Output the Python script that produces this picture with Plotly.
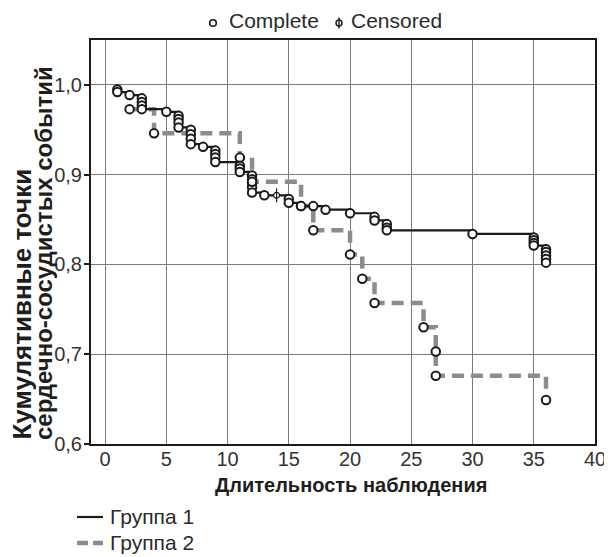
import plotly.graph_objects as go

# ---- data ----
g1_step_x = [1, 2, 3, 5, 6, 7, 8, 9, 11, 12, 13, 15, 16, 18, 20, 22, 23, 30, 35, 36]
g1_step_y = [0.992, 0.9886, 0.973, 0.970, 0.9526, 0.934, 0.931, 0.914, 0.903, 0.880,
             0.877, 0.8686, 0.865, 0.861, 0.857, 0.849, 0.838, 0.834, 0.821, 0.802]

g2_step_x = [2, 4, 11, 12, 16, 17, 20, 21, 22, 26, 27, 36]
g2_step_y = [0.973, 0.946, 0.919, 0.892, 0.865, 0.838, 0.811, 0.784, 0.757, 0.730, 0.676, 0.649]

g1_done_x = [1, 1, 2, 3, 3, 3, 3, 5, 6, 6, 6, 6, 7, 7, 7, 7, 8, 9, 9, 9, 9,
             11, 11, 11, 12, 12, 12, 12, 12, 13, 15, 15, 16, 17, 18, 20,
             22, 22, 23, 23, 23, 30, 35, 35, 35, 35, 36, 36, 36, 36, 36]
g1_done_y = [0.995, 0.992, 0.9886, 0.985, 0.981, 0.977, 0.973, 0.970, 0.9656, 0.962, 0.958, 0.9526,
             0.950, 0.945, 0.940, 0.934, 0.931, 0.927, 0.923, 0.919, 0.914,
             0.910, 0.907, 0.903, 0.899, 0.895, 0.891, 0.886, 0.880, 0.877, 0.873, 0.8686,
             0.865, 0.865, 0.861, 0.857, 0.853, 0.849, 0.845, 0.841, 0.838, 0.834,
             0.830, 0.827, 0.824, 0.821, 0.817, 0.814, 0.810, 0.806, 0.802]

g1_cens_x = [14]
g1_cens_y = [0.877]

g2_done_x = [2, 4, 11, 12, 16, 17, 20, 21, 22, 26, 27, 27, 36]
g2_done_y = [0.973, 0.946, 0.919, 0.892, 0.865, 0.838, 0.811, 0.784, 0.757, 0.730, 0.703, 0.676, 0.649]

x_ticks = [0, 5, 10, 15, 20, 25, 30, 35, 40]
y_ticks = [0.6, 0.7, 0.8, 0.9, 1.0]
y_tick_text = ["0,6", "0,7", "0,8", "0,9", "1,0"]

series_names = ["Группа 1", "Группа 2"]
legend_top = ["Complete", "Censored"]
x_title = "Длительность наблюдения"
y_title_lines = ["Кумулятивные точки", "сердечно-сосудистых событий"]

# ---- figure ----
W, H = 612, 557
OFF = 8  # page body margin
L, T = 91 - OFF, 40 - OFF
pw, ph = 504, 404
R, B = W - L - pw, H - T - ph

BLACK = "#1a1a1a"
GRAY = "#8c8c8c"
FONT = "Liberation Sans, Arial, sans-serif"


def px2paper(px, py):
    """screen pixel -> paper coords"""
    return (px - OFF - L) / pw, (T + ph - (py - OFF)) / ph


fig = go.Figure()

fig.add_trace(go.Scatter(x=g2_step_x, y=g2_step_y, mode="lines", line_shape="hv",
                         line=dict(color=GRAY, width=4.5, dash="12px,7px"),
                         name=series_names[1], showlegend=False))
fig.add_trace(go.Scatter(x=g1_step_x, y=g1_step_y, mode="lines", line_shape="hv",
                         line=dict(color=BLACK, width=2.2),
                         name=series_names[0], showlegend=False))

marker_style = dict(symbol="circle", size=8.5, color="white", line=dict(color=BLACK, width=2))
fig.add_trace(go.Scatter(x=g1_done_x, y=g1_done_y, mode="markers", marker=marker_style,
                         name=series_names[0] + " (Complete)", showlegend=False))
fig.add_trace(go.Scatter(x=g2_done_x, y=g2_done_y, mode="markers", marker=marker_style,
                         name=series_names[1] + " (Complete)", showlegend=False))
fig.add_trace(go.Scatter(x=g1_cens_x, y=g1_cens_y, mode="markers",
                         marker=dict(symbol="circle", size=6, color="white",
                                     line=dict(color=BLACK, width=1.2)),
                         name=series_names[0] + " (Censored)", showlegend=False))
fig.add_trace(go.Scatter(x=g1_cens_x, y=g1_cens_y, mode="markers",
                         marker=dict(symbol="line-ns", size=10, line=dict(color=BLACK, width=1.2)),
                         showlegend=False, hoverinfo="skip"))

shapes = []
annotations = []

# ---- top legend (markers drawn as shapes) ----
cx, cy = px2paper(213, 23)
shapes.append(dict(type="circle", xref="paper", yref="paper", xsizemode="pixel", ysizemode="pixel",
                   xanchor=cx, yanchor=cy, x0=-3.3, x1=3.3, y0=-3.3, y1=3.3,
                   line=dict(color=BLACK, width=1.6), fillcolor="white"))
tx, ty = px2paper(227, 21)
annotations.append(dict(x=tx, y=ty, xref="paper", yref="paper", xanchor="left", yanchor="middle",
                        text=legend_top[0], showarrow=False,
                        font=dict(size=21, color="#2a2a2a", family=FONT)))
cx2, cy2 = px2paper(339, 23)
shapes.append(dict(type="circle", xref="paper", yref="paper", xsizemode="pixel", ysizemode="pixel",
                   xanchor=cx2, yanchor=cy2, x0=-3, x1=3, y0=-3, y1=3,
                   line=dict(color=BLACK, width=1.4), fillcolor="white"))
shapes.append(dict(type="line", xref="paper", yref="paper", xsizemode="pixel", ysizemode="pixel",
                   xanchor=cx2, yanchor=cy2, x0=0, x1=0, y0=-5.5, y1=5.5,
                   line=dict(color=BLACK, width=1.4)))
tx2, ty2 = px2paper(349, 21)
annotations.append(dict(x=tx2, y=ty2, xref="paper", yref="paper", xanchor="left", yanchor="middle",
                        text=legend_top[1], showarrow=False,
                        font=dict(size=21, color="#2a2a2a", family=FONT)))

# ---- bottom legend (line samples drawn as shapes) ----
leg_rows = [(517, dict(color=BLACK, width=2.2)), (543, dict(color=GRAY, width=4.5, dash="11px,5px"))]
for name, (yy, ln) in zip(series_names, leg_rows):
    ax0, ay = px2paper(77, yy)
    ax1, _ = px2paper(103, yy)
    shapes.append(dict(type="line", xref="paper", yref="paper", x0=ax0, x1=ax1, y0=ay, y1=ay, line=ln))
    lx, ly = px2paper(108, yy - 1)
    annotations.append(dict(x=lx, y=ly, xref="paper", yref="paper", xanchor="left", yanchor="middle",
                            text=name, showarrow=False,
                            font=dict(size=21, color="#2a2a2a", family=FONT)))

# ---- axis titles ----
xtx, xty = px2paper(351, 485)
annotations.append(dict(x=xtx, y=xty, xref="paper", yref="paper", xanchor="center", yanchor="middle",
                        text="<b>" + x_title + "</b>", showarrow=False,
                        font=dict(size=20, color="#1e1e1e", family=FONT)))
for line_text, xc, fs in zip(y_title_lines, [21, 43], [26, 24]):
    ytx, yty = px2paper(xc, 442)
    annotations.append(dict(x=ytx, y=yty, xref="paper", yref="paper", xanchor="center", yanchor="bottom",
                            text="<b>" + line_text + "</b>", showarrow=False, textangle=-90,
                            font=dict(size=fs, color="#1e1e1e", family=FONT)))

fig.update_layout(
    width=W, height=H,
    margin=dict(l=L, r=R, t=T, b=B, pad=0),
    paper_bgcolor="white", plot_bgcolor="white",
    font=dict(family=FONT, size=20, color="#333333"),
    shapes=shapes, annotations=annotations,
    showlegend=False,
    xaxis=dict(range=[-1.15, 40.0], tickmode="array", tickvals=x_ticks,
               showgrid=True, gridcolor="#7a7a7a", gridwidth=1,
               showline=True, linecolor=BLACK, linewidth=2, mirror=True,
               ticks="", zeroline=False, automargin=False, ticklabelstandoff=-4,
               tickfont=dict(size=20, color="#333333")),
    yaxis=dict(range=[0.6, 1.05], tickmode="array", tickvals=y_ticks, ticktext=y_tick_text,
               showgrid=True, gridcolor="#7a7a7a", gridwidth=1,
               showline=True, linecolor=BLACK, linewidth=2, mirror=True,
               ticks="outside", ticklen=5, tickcolor=BLACK, tickwidth=1.5, zeroline=False,
               automargin=False, ticklabelstandoff=-2, tickfont=dict(size=20, color="#333333")),
)

fig.write_html("out.html")
